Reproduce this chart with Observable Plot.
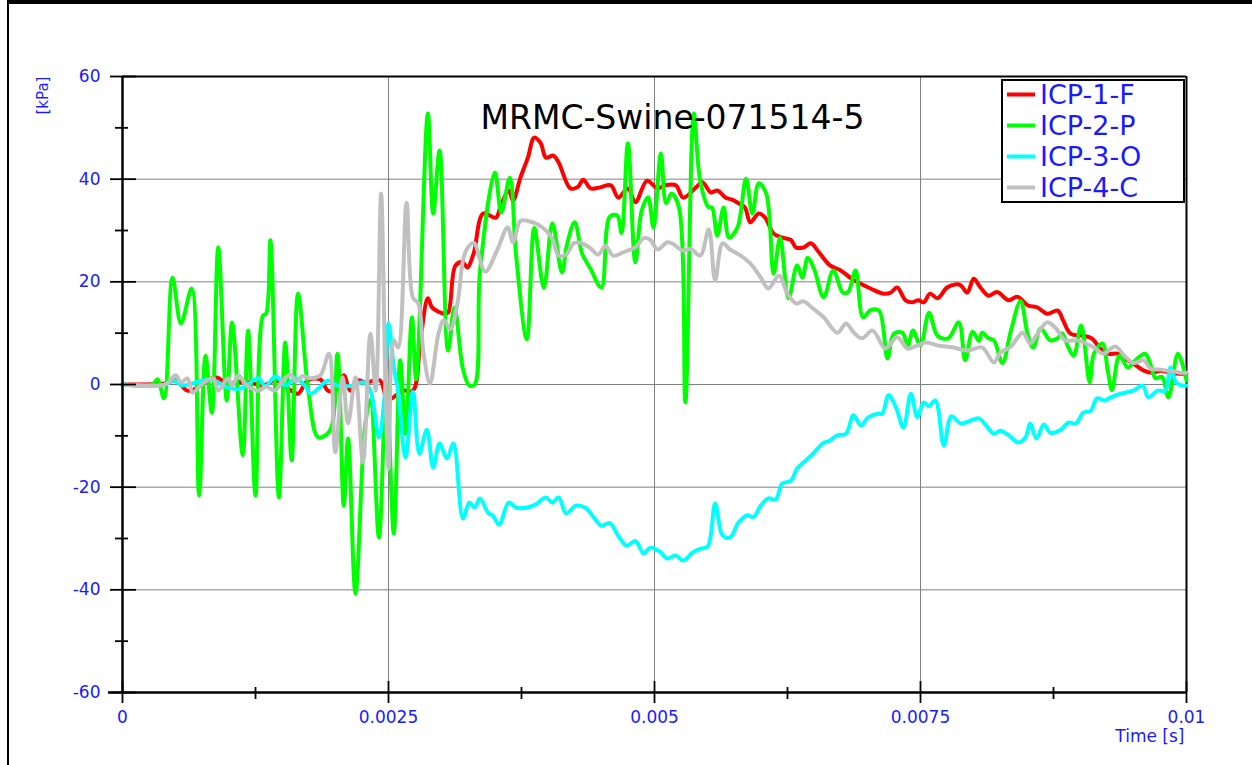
<!DOCTYPE html>
<html>
<head>
<meta charset="utf-8">
<script src="https://cdn.jsdelivr.net/npm/d3@7"></script>
<script src="https://cdn.jsdelivr.net/npm/@observablehq/plot@0.6"></script>
<style>
  html, body { margin: 0; padding: 0; background: #fff; }
  #wrap { position: relative; width: 1252px; height: 765px; overflow: hidden; font-family: "DejaVu Sans", sans-serif; }
  #chart { position: absolute; left: 0; top: 0; }
  #border { position: absolute; left: 7px; top: 0px; width: 1260px; height: 800px; border-top: 4px solid #000; border-left: 2px solid #000; pointer-events: none; }
  #legend { position: absolute; left: 1001px; top: 79px; width: 180px; height: 120px; border: 2px solid #000; background: #fff; }
  .row { position: absolute; left: 0; height: 31px; line-height: 31px; color: #1a1aff; font-size: 27px; white-space: nowrap; }
  .row svg { position: absolute; left: 4px; top: 13px; }
  .row span { position: absolute; left: 37px; top: 0; }
</style>
</head>
<body>
<div id="wrap">
  <div id="chart"></div>
  <div id="border"></div>
  <div id="legend"></div>
</div>
<script>
// ---- data (time in ms, pressure in kPa) ----
const chartTitle = "MRMC-Swine-071514-5";
const seriesNames = ["ICP-1-F", "ICP-2-P", "ICP-3-O", "ICP-4-C"];
const seriesColors = ["#ff0000", "#00ff00", "#00ffff", "#c0c0c0"];
const yTicks = [-60, -40, -20, 0, 20, 40, 60];
const yMinorTicks = [-50, -30, -10, 10, 30, 50];
const xTicks = [0, 0.0025, 0.005, 0.0075, 0.01];
const xTickLabels = ["0", "0.0025", "0.005", "0.0075", "0.01"];
const xMinorTicks = [0.00125, 0.00375, 0.00625, 0.00875];
const yLabel = "[kPa]";
const xLabel = "Time [s]";

const icp1T = [0,0.40,0.50,0.61,0.69,0.87,0.99,1.16,1.32,1.44,1.56,1.65,1.74,1.86,1.93,2.01,2.08,2.14,2.21,2.29,2.42,2.49,2.58,2.64,2.73,2.80,2.87,2.91,3.02,3.06,3.13,3.20,3.24,3.30,3.39,3.51,3.55,3.63,3.67,3.74,3.81,3.87,3.93,3.98,4.05,4.10,4.21,4.28,4.33,4.40,4.49,4.59,4.66,4.75,4.82,4.93,5.03,5.10,5.20,5.27,5.39,5.45,5.53,5.59,5.67,5.73,5.79,5.85,5.90,5.98,6.04,6.12,6.20,6.28,6.33,6.40,6.47,6.54,6.65,6.75,6.84,6.91,7.03,7.15,7.22,7.28,7.36,7.42,7.48,7.53,7.59,7.66,7.75,7.83,7.88,7.94,8.00,8.06,8.14,8.22,8.33,8.41,8.51,8.60,8.69,8.79,8.84,8.91,9.03,9.11,9.19,9.27,9.35,9.45,9.50,9.60,9.68,9.76,9.85,9.94,10.0];
const icp1V = [0,0.2,0.8,-1.2,-0.8,1.4,0.2,0.6,-0.2,0.8,-0.8,-1.8,0.8,1,-1.2,-1,1.8,-1.2,0.8,0.4,0.8,-3,-2,-1.2,-1.2,8.6,16.8,15,13.8,14,23.2,23.8,22.8,25.5,33.3,32.5,34.5,37.8,35.8,40.3,44.2,48.1,47,44.2,44.6,43.2,38.2,38.5,39.9,38.2,38.4,38.8,36.4,38.2,35.5,39.7,38.2,38.8,38.8,36.4,38.4,39.4,37.4,37.8,36.4,36,35.3,34.5,31.6,33.3,32.5,29.4,28.6,28.2,26.7,26.7,27.5,25.9,23.2,22.2,20.8,19.9,18.7,17.7,17.9,18.9,16.4,16,16.4,16,17.7,16.8,18.9,19.5,19.3,17.9,20.6,19,17.3,18,16.4,17.1,15.4,15,13.8,14.4,12.5,9.9,9.5,9,7,6,6,4.7,4.1,2.7,2.3,2.7,2.3,2.1,2.1];

const icp2T = [0,0.28,0.33,0.39,0.47,0.55,0.65,0.72,0.78,0.84,0.90,0.98,1.03,1.13,1.18,1.25,1.32,1.35,1.39,1.47,1.53,1.59,1.65,1.75,1.84,1.95,2.02,2.08,2.12,2.19,2.28,2.33,2.41,2.48,2.55,2.61,2.66,2.72,2.76,2.87,2.92,2.98,3.06,3.12,3.20,3.26,3.31,3.36,3.50,3.56,3.64,3.70,3.80,3.87,3.96,4.04,4.13,4.18,4.25,4.32,4.40,4.50,4.58,4.65,4.69,4.75,4.82,4.88,4.94,4.99,5.06,5.11,5.16,5.23,5.29,5.37,5.43,5.51,5.54,5.59,5.65,5.70,5.78,5.86,5.92,5.98,6.05,6.12,6.18,6.26,6.34,6.39,6.44,6.50,6.59,6.68,6.77,6.82,6.89,6.96,7.03,7.11,7.19,7.25,7.33,7.38,7.43,7.50,7.58,7.66,7.76,7.86,7.92,7.99,8.05,8.08,8.14,8.19,8.27,8.35,8.44,8.51,8.56,8.63,8.72,8.79,8.83,8.89,8.94,9.01,9.09,9.13,9.21,9.26,9.30,9.37,9.45,9.51,9.61,9.66,9.71,9.77,9.83,9.92,10.0];
const icp2V = [0,0,1,-2.7,20.8,11.9,18.7,-21.6,5.6,-5.5,26.7,-3.1,12.1,-13.8,10.5,-21.6,13.4,13.8,28.1,-22,8.2,-14.8,17.7,-1.8,-10.3,-9,6,-23.6,-10.5,-40.7,-8,-3,-29.8,0,-29,4.7,-9.6,13.1,1,52.8,33.3,45.6,6.6,15,3,-0.2,0,22,41.3,33.5,40.3,25,8.8,30.5,18.8,31.4,21.8,27.5,31.6,25.5,22.5,18.9,32.7,32.9,29.5,47,23.8,33.9,36.5,30.6,45,35.3,37.2,34.5,-3.5,52.8,39.6,34.5,34.5,29,34.5,28.6,30.6,40.1,33.3,39.2,37.2,21.6,28.6,16.8,23.2,20.8,24.7,22.5,17,22.2,17.9,18,22.2,13.1,14.5,14.4,5.1,9.9,10.1,7.6,10.5,7.6,14,9.5,9,12.1,4.7,10.3,8.5,10.1,9,8.6,4.2,10.5,16.2,9.5,7.2,10.9,8.6,9,10,7.2,5.6,11.5,0.4,6,8,2.7,-1.1,5.6,3.3,4.5,6,4,1.2,1.5,-2.5,6,0.8];

const icp3T = [0,0.40,0.48,0.56,0.69,0.83,0.99,1.11,1.28,1.34,1.44,1.53,1.63,1.72,1.77,1.84,1.93,2.02,2.14,2.27,2.33,2.41,2.46,2.50,2.55,2.59,2.66,2.73,2.79,2.86,2.92,2.98,3.05,3.11,3.20,3.26,3.31,3.36,3.44,3.48,3.54,3.63,3.70,3.79,3.88,3.98,4.04,4.10,4.17,4.26,4.35,4.43,4.50,4.58,4.66,4.74,4.82,4.90,4.96,5.06,5.12,5.20,5.27,5.36,5.43,5.50,5.57,5.64,5.71,5.79,5.87,5.93,6.00,6.07,6.14,6.20,6.28,6.34,6.42,6.49,6.58,6.64,6.72,6.80,6.87,6.94,7.01,7.10,7.14,7.20,7.27,7.34,7.41,7.47,7.53,7.58,7.64,7.72,7.79,7.88,7.95,8.05,8.11,8.19,8.25,8.33,8.42,8.49,8.53,8.59,8.66,8.72,8.82,8.89,8.96,9.03,9.10,9.16,9.23,9.29,9.38,9.50,9.59,9.64,9.73,9.80,9.85,9.90,9.96,10.0];
const icp3V = [0,0,0.8,-0.2,0.4,1,-0.6,-0.8,1.2,-0.4,1.6,-0.2,1.2,-0.4,-1.8,-0.8,0.8,-0.2,-0.3,0.4,-1.2,-10.3,-3,11.9,3.3,-1.2,-14.2,-1.4,-13.5,-8.8,-16.2,-11.5,-14.4,-11.5,-26.1,-23,-24,-22.2,-25.1,-25.5,-27.3,-23,-24,-24,-23.4,-22,-23,-22,-25.1,-23.6,-24,-25.9,-27.5,-27,-29.5,-31.4,-30.5,-32.9,-31.8,-32.7,-33.9,-33.3,-34.3,-32.7,-32,-31.6,-23.2,-29.4,-29.8,-26.9,-25.5,-25.8,-23.6,-22.2,-22.4,-19.3,-18.8,-16.4,-14.8,-13.5,-11.5,-11,-9.9,-9.6,-6,-8,-6.4,-5.7,-5.7,-2.1,-4.5,-8.4,-1.8,-6.4,-3.5,-4.2,-3.1,-11.9,-6.2,-7.6,-7.2,-6.6,-7.8,-9.6,-9,-9.9,-11.3,-10.2,-7.6,-10.5,-7.8,-9.4,-8.8,-7.4,-7.6,-5.5,-5.1,-2.7,-3.1,-2.5,-1.8,-1.2,-0.2,-2.5,-1.2,-1.2,3.3,0.4,-0.2,-0.2];

const icp4T = [0,0.40,0.50,0.55,0.61,0.66,0.73,0.85,0.90,0.99,1.03,1.09,1.16,1.28,1.35,1.43,1.50,1.58,1.63,1.69,1.77,1.86,1.94,2.00,2.07,2.12,2.19,2.26,2.33,2.38,2.43,2.47,2.50,2.55,2.59,2.67,2.73,2.78,2.83,2.89,2.97,3.02,3.08,3.15,3.20,3.24,3.30,3.41,3.52,3.62,3.67,3.74,3.82,3.90,3.98,4.04,4.10,4.17,4.24,4.30,4.40,4.47,4.54,4.61,4.71,4.82,4.90,4.96,5.03,5.12,5.18,5.26,5.34,5.43,5.51,5.57,5.64,5.71,5.81,5.90,6.00,6.07,6.17,6.25,6.33,6.40,6.49,6.59,6.72,6.80,6.87,6.95,7.05,7.17,7.28,7.38,7.45,7.55,7.66,7.81,7.94,8.08,8.19,8.25,8.35,8.46,8.53,8.60,8.69,8.77,8.86,8.98,9.13,9.22,9.33,9.42,9.50,9.60,9.66,9.76,9.82,9.90,9.94,10.0];
const icp4V = [0,0,1.8,0.4,1.2,-1.6,-0.2,1.2,-1.2,1.2,-0.2,1.8,0,-1.2,-0.4,-1.2,0.6,1.9,0.6,1.6,1.2,1.8,6,-13.2,1.4,-7.6,1.4,-15.2,9.9,-1.2,37.2,1.4,-16.4,8.6,7.2,35.4,16.9,15.8,6,0.2,9.9,12.5,10.8,16,24.2,26.5,27.6,22,26.1,30.6,27.7,31.9,31.8,31.2,30,28.4,25.1,25.3,27.5,27.6,26.5,25.3,27,25.1,25.8,26.7,28.5,28.2,26.3,27.7,27.3,26.1,26.4,25.1,30.2,20.3,27.5,26.3,25.1,23.6,20.8,18.7,21.2,17.7,15.8,16.2,14.8,13.1,10.1,11.9,10.2,9,10.5,7,9.2,7,7.4,8.2,7.6,7.2,6.6,7.2,4.3,6.2,7.4,10.1,8,9.9,12.1,11,8.6,8.6,7.2,6,7.4,5.5,4.2,4.7,3.1,2.9,2.7,2.5,2.3,2.3];

const seriesT = [icp1T, icp2T, icp3T, icp4T];
const seriesV = [icp1V, icp2V, icp3V, icp4V];

// ---- build table ----
const rows = [];
seriesNames.forEach((name, i) => {
  seriesT[i].forEach((t, j) => rows.push({series: name, t: t / 1000, v: seriesV[i][j]}));
});

const blue = "#1a1aff";
const font = "DejaVu Sans, sans-serif";

const plot = Plot.plot({
  width: 1252,
  height: 765,
  marginLeft: 122,
  marginRight: 66,
  marginTop: 76,
  marginBottom: 73,
  style: {background: "white", fontFamily: font},
  x: {domain: [0, 0.01], axis: null},
  y: {domain: [-60, 60], axis: null},
  marks: [
    // grid
    Plot.ruleY(yTicks.filter(d => d > -60 && d < 60), {stroke: "#808080", strokeWidth: 1}),
    Plot.ruleX(xTicks.filter(d => d > 0 && d < 0.01), {stroke: "#808080", strokeWidth: 1}),
    // frame
    Plot.ruleY([60], {stroke: "#000", strokeWidth: 2}),
    Plot.ruleX([0.01], {stroke: "#000", strokeWidth: 2}),
    // data lines
    ...seriesNames.map((name, i) =>
      Plot.line(rows.filter(r => r.series === name), {
        x: "t", y: "v", stroke: seriesColors[i], strokeWidth: 4,
        curve: "catmull-rom", strokeLinejoin: "round", strokeLinecap: "round"
      })
    ),
    // axes lines
    Plot.ruleX([0], {stroke: "#000", strokeWidth: 2.5}),
    Plot.ruleY([-60], {stroke: "#000", strokeWidth: 2.5, insetLeft: -14}),
    // y ticks
    Plot.axisY(yTicks, {tickSize: 26, dx: 14, tickFormat: () => "", label: null, stroke: "#000", strokeWidth: 1.8}),
    Plot.axisY(yMinorTicks, {tickSize: 13, dx: 6, tickFormat: () => "", label: null, stroke: "#000", strokeWidth: 1.8}),
    // x ticks
    Plot.axisX(xTicks, {tickSize: 22, dy: -11, tickFormat: () => "", label: null, stroke: "#000", strokeWidth: 1.8}),
    Plot.axisX(xMinorTicks, {tickSize: 12, dy: -5, tickFormat: () => "", label: null, stroke: "#000", strokeWidth: 1.8}),
    // tick labels
    Plot.text(yTicks, {y: d => d, text: d => String(d), frameAnchor: "left", textAnchor: "end", dx: -22, fill: blue, fontSize: 17, fontFamily: font}),
    Plot.text(xTicks, {x: d => d, text: (d, i) => xTickLabels[i], frameAnchor: "bottom", lineAnchor: "middle", dy: 25, fill: blue, fontSize: 17, fontFamily: font}),
    // axis labels
    Plot.text([xLabel], {text: d => d, frameAnchor: "bottom-right", textAnchor: "end", lineAnchor: "middle", dy: 44, dx: -2, fill: blue, fontSize: 17, fontFamily: font}),
    Plot.text([yLabel], {text: d => d, frameAnchor: "top-left", rotate: -90, lineAnchor: "middle", textAnchor: "middle", dx: -79, dy: 19, fill: blue, fontSize: 15, fontFamily: font}),
    // title
    Plot.text([chartTitle], {text: d => d, frameAnchor: "top", lineAnchor: "middle", dx: 18, dy: 42, fill: "#000", fontSize: 33, fontFamily: font})
  ]
});
document.getElementById("chart").appendChild(plot);

// legend
const legend = document.getElementById("legend");
const rowCenters = [13, 44, 75, 106];
seriesNames.forEach((name, i) => {
  const row = document.createElement("div");
  row.className = "row";
  row.style.top = (rowCenters[i] - 15.5) + "px";
  row.innerHTML = `<svg width="28" height="5"><line x1="0" y1="2.5" x2="28" y2="2.5" stroke="${seriesColors[i]}" stroke-width="4"/></svg><span>${name}</span>`;
  legend.appendChild(row);
});
</script>
</body>
</html>
